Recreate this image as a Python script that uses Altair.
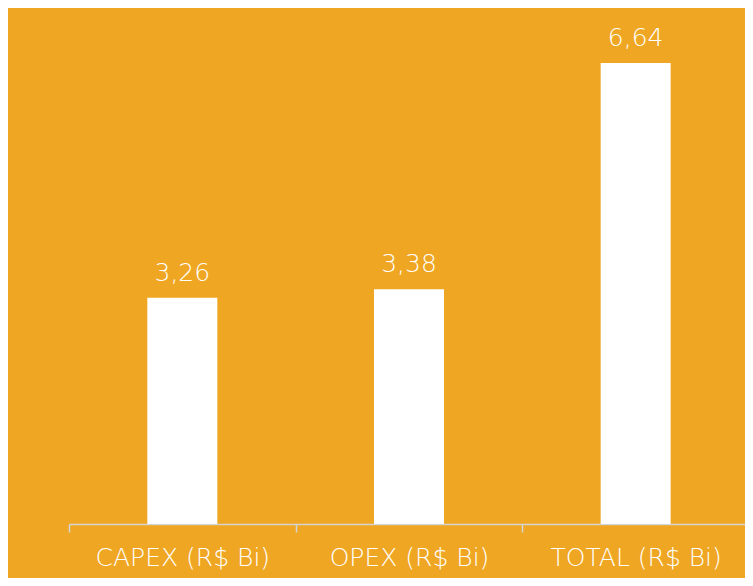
import altair as alt
import pandas as pd

categories = ["CAPEX (R$ Bi)", "OPEX (R$ Bi)", "TOTAL (R$ Bi)"]
values = [3.26, 3.38, 6.64]
labels = ["3,26", "3,38", "6,64"]

df = pd.DataFrame({"cat": categories, "val": values, "lab": labels})

BG = "#EFA622"
FONT = "DejaVu Sans"

x = alt.X("cat:N", sort=categories, title=None,
          scale=alt.Scale(paddingInner=0, paddingOuter=0, range=[0, 680]),
          axis=alt.Axis(labelAngle=0, labelColor="white", labelFont=FONT,
                        labelFontSize=25, labelFontWeight=200, labelPadding=13,
                        domainColor="#d4d4d4", domainWidth=1.5,
                        tickColor="#d4d4d4", tickWidth=1.5, tickSize=8,
                        tickBand="extent"))
y = alt.Y("val:Q", scale=alt.Scale(domain=[0, 7], nice=False), axis=None)

bars = alt.Chart(df).mark_bar(color="white", size=70).encode(x=x, y=y)
text = alt.Chart(df).mark_text(color="white", font=FONT, fontSize=25, fontWeight=200,
                               baseline="alphabetic", dy=-17).encode(
    x=alt.X("cat:N", sort=categories), y="val:Q", text="lab:N")

chart = (bars + text).properties(
    width=676, height=486,
    background=BG,
    padding={"left": 61, "top": 30, "right": 0, "bottom": 54},
    autosize=alt.AutoSizeParams(type="none"),
).configure_view(stroke=None)

chart.save("out.html", embed_options={"renderer": "svg", "actions": False})
